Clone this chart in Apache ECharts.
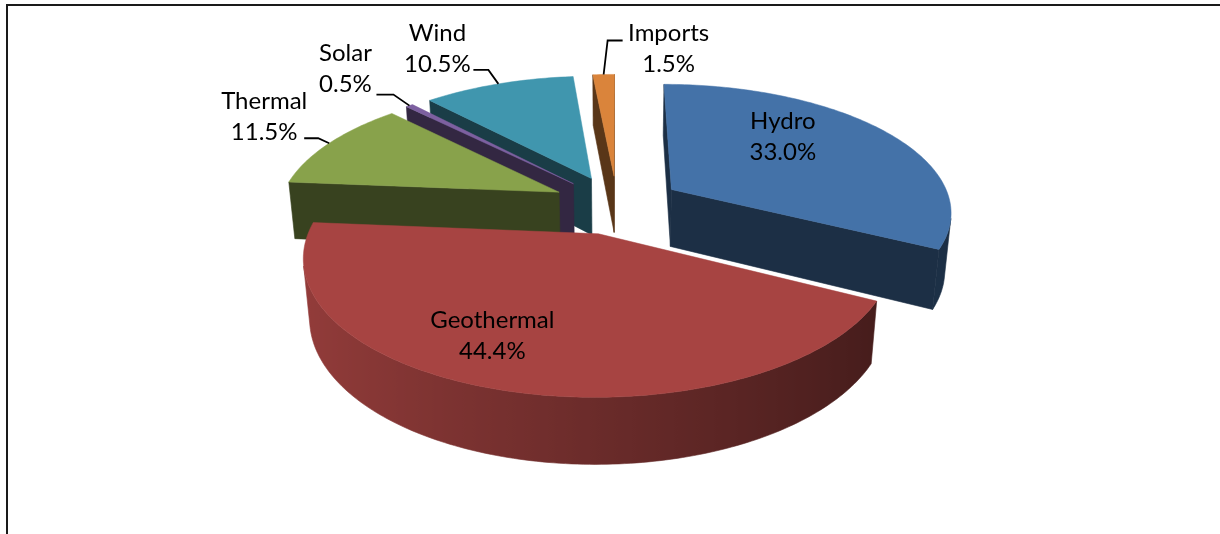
<!DOCTYPE html>
<html>
<head>
<meta charset="utf-8">
<script src="https://cdn.jsdelivr.net/npm/echarts@6/dist/echarts.min.js"></script>
<style>
  html, body { margin: 0; padding: 0; background: #ffffff; }
  #chart { width: 1220px; height: 534px; }
</style>
</head>
<body>
<div id="chart"></div>
<script>
// Electricity generation by source, share of total (%)
const categories = ['Hydro', 'Geothermal', 'Thermal', 'Solar', 'Wind', 'Imports'];
const shares = [33.0, 44.4, 11.5, 0.5, 10.5, 1.5];

// Top-face colours of each slice
const palette = ['#4472A8', '#A74442', '#88A24B', '#7D60A0', '#4096AE', '#DA843B'];

// Label placement: inside labels sit on the top face, the rest use a leader line
const labelLayout = [
  { inside: true, offset: [1, -22] },
  { inside: true, offset: [-61, 31] },
  { inside: false, elbow: [-11, -5], end: [-25, -5], text: [-65, -27] },
  { inside: false, elbow: [-16, -11], end: [-33, -11], text: [-64, -37] },
  { inside: false, elbow: [-10, -14], end: [-25, -14], text: [-61, -35] },
  { inside: false, elbow: [4, -34], end: [19, -34], text: [65, -26] }
];

// 3D view of the exploded pie (pixels / degrees)
const view = { cx: 617, cy: 204.5, radius: 280, depth: 66, explode: 65, tilt: 26.87, distance: 1550 };
const RAD = Math.PI / 180;
const sinA = Math.sin(view.tilt * RAD), cosA = Math.cos(view.tilt * RAD);
const camera = [0, view.distance * sinA, -view.distance * cosA];

function project(p) {
  const d = p[2] * cosA - p[1] * sinA;
  const up = p[2] * sinA + p[1] * cosA;
  const k = view.distance / (view.distance + d);
  return [view.cx + p[0] * k, view.cy - up * k];
}
function facing(n, p) {
  return n[0] * (camera[0] - p[0]) + n[1] * (camera[1] - p[1]) + n[2] * (camera[2] - p[2]) > 0;
}
function shade(hex, f) {
  const v = parseInt(hex.slice(1), 16);
  const r = Math.round(((v >> 16) & 255) * f), g = Math.round(((v >> 8) & 255) * f), b = Math.round((v & 255) * f);
  return 'rgb(' + r + ',' + g + ',' + b + ')';
}
// lighting of the curved side: brighter towards the left
const sideLight = (a) => 0.64 - 0.25 * Math.sin(a);

// Slice angles, clockwise from 12 o'clock
const total = shares.reduce((a, b) => a + b, 0);
let acc = 0;
const slices = shares.map((v) => {
  const a0 = acc / total * 2 * Math.PI;
  acc += v;
  const a1 = acc / total * 2 * Math.PI;
  const am = (a0 + a1) / 2;
  return { a0, a1, am, o: [view.explode * Math.sin(am), 0, view.explode * Math.cos(am)] };
});
function rim(s, a, y, r) {
  if (r == null) r = view.radius;
  return [s.o[0] + r * Math.sin(a), y, s.o[2] + r * Math.cos(a)];
}

// Paint far slices first
const depthOf = (s) => { const p = rim(s, s.am, 0, view.radius * 0.5); return p[2] * cosA; };
const rank = slices.map((s, i) => i).sort((a, b) => depthOf(slices[b]) - depthOf(slices[a]));
const order = [];
rank.forEach((idx, r) => { order[idx] = r; });

function sidePolygon(s, t0, t1, H, base, z2) {
  const m = Math.max(2, Math.ceil((t1 - t0) / (1 * RAD)));
  const upper = [], lower = [], stops = [];
  for (let j = 0; j <= m; j++) {
    const t = t0 + (t1 - t0) * j / m;
    upper.push(project(rim(s, t, 0)));
    lower.push(project(rim(s, t, H)));
  }
  const xs = upper.concat(lower).map((p) => p[0]);
  const xmin = Math.min.apply(null, xs), xmax = Math.max.apply(null, xs);
  const span = Math.max(1, xmax - xmin);
  for (let j = 0; j <= m; j++) {
    const t = t0 + (t1 - t0) * j / m;
    stops.push({ offset: Math.min(1, Math.max(0, (upper[j][0] - xmin) / span)), color: shade(base, sideLight(t)) });
  }
  stops.sort((a, b) => a.offset - b.offset);
  const fill = new echarts.graphic.LinearGradient(xmin, 0, xmax, 0, stops, true);
  return {
    type: 'polygon', z2,
    shape: { points: upper.concat(lower.reverse()) },
    style: { fill, stroke: fill, lineWidth: 0.6 }
  };
}

function renderItem(params, api) {
  const i = params.dataIndex;
  const s = slices[i];
  const base = palette[i];
  const z0 = order[i] * 10;
  const H = -view.depth;
  const children = [];
  const apexT = [s.o[0], 0, s.o[2]], apexB = [s.o[0], H, s.o[2]];
  const n = Math.max(2, Math.ceil((s.a1 - s.a0) / (1 * RAD)));

  // outer curved side, one shaded band per visible run
  let runStart = null;
  for (let j = 0; j <= n; j++) {
    let vis = false;
    if (j < n) {
      const tm = s.a0 + (s.a1 - s.a0) * (j + 0.5) / n;
      vis = facing([Math.sin(tm), 0, Math.cos(tm)], rim(s, tm, H / 2));
    }
    const t = s.a0 + (s.a1 - s.a0) * j / n;
    if (vis && runStart === null) runStart = t;
    if (!vis && runStart !== null) {
      children.push(sidePolygon(s, runStart, t, H, base, z0 + 1));
      runStart = null;
    }
  }

  // radial walls
  [[s.a0, [-Math.cos(s.a0), 0, Math.sin(s.a0)]], [s.a1, [Math.cos(s.a1), 0, -Math.sin(s.a1)]]].forEach(([a, nrm]) => {
    if (!facing(nrm, rim(s, a, H / 2, view.radius / 2))) return;
    const col = shade(base, 0.41);
    children.push({
      type: 'polygon', z2: z0 + 2,
      shape: { points: [apexT, rim(s, a, 0), rim(s, a, H), apexB].map(project) },
      style: { fill: col, stroke: col, lineWidth: 0.6 }
    });
  });

  // top face
  const top = [apexT];
  for (let j = 0; j <= n; j++) top.push(rim(s, s.a0 + (s.a1 - s.a0) * j / n, 0));
  children.push({
    type: 'polygon', z2: z0 + 3,
    shape: { points: top.map(project) },
    style: { fill: base, stroke: base, lineWidth: 0.5 }
  });

  // label
  const lay = labelLayout[i];
  const text = categories[i] + '\n' + shares[i].toFixed(1) + '%';
  const textStyle = { text, fill: '#000000', fontSize: 24, fontFamily: 'Lato', align: 'center', verticalAlign: 'middle', lineHeight: 31 };
  if (lay.inside) {
    const c = project(rim(s, s.am, 0, view.radius * 0.5));
    children.push({ type: 'text', z2: 1000, style: Object.assign({ x: c[0] + lay.offset[0], y: c[1] + lay.offset[1] }, textStyle) });
  } else {
    const p = project(rim(s, s.am, 0));
    children.push({
      type: 'polyline', z2: 999,
      shape: { points: [p, [p[0] + lay.elbow[0], p[1] + lay.elbow[1]], [p[0] + lay.end[0], p[1] + lay.end[1]]] },
      style: { stroke: '#000000', lineWidth: 1.8, fill: null }
    });
    children.push({ type: 'text', z2: 1000, style: Object.assign({ x: p[0] + lay.text[0], y: p[1] + lay.text[1] }, textStyle) });
  }
  return { type: 'group', children };
}

const chart = echarts.init(document.getElementById('chart'), null, { renderer: 'canvas' });
chart.setOption({
  backgroundColor: '#ffffff',
  animation: false,
  graphic: [{
    type: 'rect', z: -10, silent: true,
    shape: { x: 7, y: 5, width: 1300, height: 600 },
    style: { fill: 'transparent', stroke: '#1a1a1a', lineWidth: 2 }
  }],
  series: [{
    type: 'custom',
    coordinateSystem: 'none',
    silent: true,
    renderItem,
    data: shares.map((v) => [v])
  }]
});
</script>
</body>
</html>
